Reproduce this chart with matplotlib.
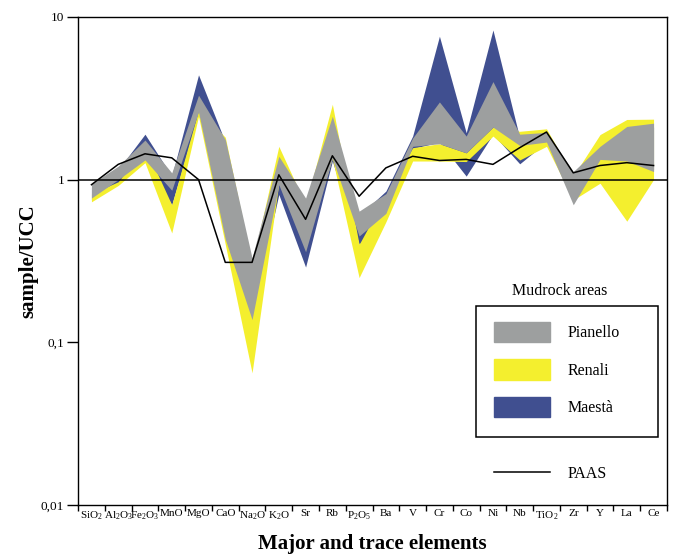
import numpy as np
import matplotlib.pyplot as plt
from matplotlib.patches import Patch, Rectangle
from matplotlib.lines import Line2D

plt.rcParams['font.family'] = ['Liberation Serif', 'DejaVu Serif']
plt.rcParams['mathtext.fontset'] = 'custom'
plt.rcParams['mathtext.rm'] = 'Liberation Serif'

elements = [r'$\mathregular{SiO_2}$', r'$\mathregular{Al_2O_3}$', r'$\mathregular{Fe_2O_3}$', 'MnO', 'MgO', 'CaO',
            r'$\mathregular{Na_2O}$', r'$\mathregular{K_2O}$', 'Sr', 'Rb', r'$\mathregular{P_2O_5}$', 'Ba', 'V', 'Cr',
            'Co', 'Ni', 'Nb', r'$\mathregular{TiO_2}$', 'Zr', 'Y', 'La', 'Ce']

# normalized ranges (sample/UCC)
pianello_min = [0.77, 1.00, 1.32, 0.86, 2.60, 0.43, 0.138, 0.93, 0.36, 1.35, 0.45, 0.62, 1.60, 1.66, 1.46, 2.10, 1.62, 1.70, 0.70, 1.33, 1.30, 1.12]
pianello_max = [0.94, 1.21, 1.75, 1.10, 3.30, 1.76, 0.33, 1.39, 0.77, 2.45, 0.64, 0.82, 1.80, 3.00, 1.85, 4.00, 1.90, 1.95, 1.12, 1.60, 2.12, 2.22]
renali_min = [0.73, 0.92, 1.27, 0.47, 2.45, 0.40, 0.065, 0.95, 0.40, 1.35, 0.25, 0.55, 1.30, 1.30, 1.29, 1.85, 1.32, 1.60, 0.75, 0.95, 0.555, 1.00]
renali_max = [0.82, 0.97, 1.60, 0.70, 2.67, 1.82, 0.30, 1.60, 0.70, 2.90, 0.40, 0.80, 1.57, 1.66, 1.46, 2.10, 1.98, 2.05, 1.05, 1.89, 2.34, 2.35]
maesta_min = [0.75, 0.95, 1.30, 0.70, 2.55, 0.50, 0.15, 0.81, 0.29, 1.30, 0.40, 0.62, 1.55, 1.70, 1.05, 1.90, 1.25, 1.70, 0.80, 1.35, 1.35, 1.15]
maesta_max = [0.90, 1.15, 1.90, 1.05, 4.40, 1.70, 0.30, 1.30, 0.70, 1.57, 0.60, 0.85, 1.85, 7.60, 1.94, 8.30, 1.80, 1.90, 1.10, 1.55, 2.00, 2.10]
paas = [0.93, 1.24, 1.44, 1.36, 1.00, 0.31, 0.31, 1.07, 0.57, 1.40, 0.79, 1.18, 1.39, 1.31, 1.33, 1.24, 1.57, 1.96, 1.10, 1.22, 1.27, 1.22]

c_gray = '#9d9f9f'
c_yellow = '#f4ef2e'
c_blue = '#404f90'

x = np.arange(len(elements)) + 0.5

fig = plt.figure(figsize=(6.73, 5.6), dpi=100)
ax = fig.add_axes([0.116, 0.098, 0.875, 0.872])

ax.fill_between(x, maesta_min, maesta_max, color=c_blue, lw=0, zorder=1)
ax.fill_between(x, renali_min, renali_max, color=c_yellow, lw=0, zorder=2)
ax.fill_between(x, pianello_min, pianello_max, color=c_gray, lw=0, zorder=3)
ax.plot(x, paas, color='black', lw=1.1, zorder=4)
ax.axhline(1, color='black', lw=1.1, zorder=5)

ax.set_yscale('log')
ax.set_ylim(0.01, 10)
ax.set_xlim(0, len(elements))
ax.set_yticks([0.01, 0.1, 1, 10])
ax.set_yticklabels(['0,01', '0,1', '1', '10'], fontsize=9.5)
ax.yaxis.set_minor_locator(plt.NullLocator())
ax.tick_params(axis='y', direction='out', length=8, width=1, pad=2)

ax.set_xticks(np.arange(len(elements) + 1))
ax.set_xticklabels([])
ax.set_xticks(x, minor=True)
ax.set_xticklabels(elements, minor=True, fontsize=8)
ax.tick_params(axis='x', which='major', direction='out', length=4, width=1)
ax.tick_params(axis='x', which='minor', length=0, pad=3)

for s in ax.spines.values():
    s.set_linewidth(1)

ax.set_ylabel('sample/UCC', fontsize=15, fontweight='bold', labelpad=2)
ax.set_xlabel('Major and trace elements', fontsize=15, fontweight='bold', labelpad=9)

# legend: title above a framed box, PAAS entry below the box
fig.text(0.832, 1 - 291 / 560, 'Mudrock areas', fontsize=11.5, ha='center', va='center')
fig.patches.append(Rectangle((476 / 673, 1 - 437 / 560), 182 / 673, 131 / 560,
                             transform=fig.transFigure, fill=False, edgecolor='black', lw=1.1, zorder=10))
handles = [Patch(color=c_gray), Patch(color=c_yellow), Patch(color=c_blue)]
leg = ax.legend(handles, ['Pianello', 'Renali', 'Maestà'], loc='upper left',
                bbox_to_anchor=(478 / 673, 1 - 306 / 560), bbox_transform=fig.transFigure,
                fontsize=11.5, handlelength=3.5, handleheight=1.6, labelspacing=1.05,
                handletextpad=1.1, borderpad=1.0, borderaxespad=0, frameon=False)
ax.add_artist(leg)
ax.legend([Line2D([0], [0], color='black', lw=1.1)], ['PAAS'], loc='upper left',
          bbox_to_anchor=(478 / 673, 1 - 450 / 560), bbox_transform=fig.transFigure,
          fontsize=11.5, handlelength=3.5, handletextpad=1.1, borderpad=1.0,
          borderaxespad=0, frameon=False)

fig.savefig('out.png', dpi=100)
